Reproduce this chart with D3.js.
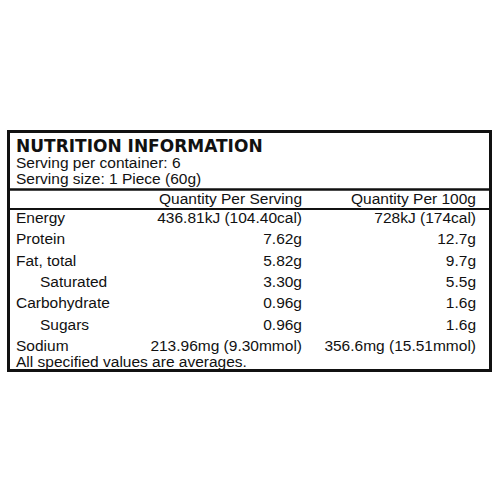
<!DOCTYPE html><html><head><script src="https://cdn.jsdelivr.net/npm/d3@7"></script>
<style>body{margin:0;background:#fff}</style></head><body><svg id="c" width="500" height="500"></svg>
<script>
const nutrients=["Energy","Protein","Fat, total","Saturated","Carbohydrate","Sugars","Sodium"];
const indent=[0,0,0,1,0,1,0];
const perServing=["436.81kJ (104.40cal)","7.62g","5.82g","3.30g","0.96g","0.96g","213.96mg (9.30mmol)"];
const per100g=["728kJ (174cal)","12.7g","9.7g","5.5g","1.6g","1.6g","356.6mg (15.51mmol)"];
const headers=["Quantity Per Serving","Quantity Per 100g"];
const svg=d3.select("#c");
const F="Liberation Sans, Arial, sans-serif";
svg.append("rect").attr("x",8.5).attr("y",131.5).attr("width",482).attr("height",239).attr("fill","#fff").attr("stroke","#111").attr("stroke-width",3);
const t=(x,y,s,o={})=>svg.append("text").attr("x",x).attr("y",y).text(s).attr("font-family",o.ff||F).attr("font-size",o.fs||15.5).attr("font-weight",o.fw||"normal").attr("text-anchor",o.a||"start").attr("fill","#111");
t(16,152,"NUTRITION INFORMATION",{fs:17,fw:"bold",ff:"DejaVu Sans, sans-serif"});
t(16,168,"Serving per container: 6");
t(16,184,"Serving size: 1 Piece (60g)");
svg.append("line").attr("x1",8).attr("x2",491).attr("y1",189.5).attr("y2",189.5).attr("stroke","#111").attr("stroke-width",2.5);
svg.append("line").attr("x1",8).attr("x2",491).attr("y1",209).attr("y2",209).attr("stroke","#111").attr("stroke-width",1.8);
const cols=d3.scaleOrdinal().domain([0,1]).range([302,476]);
headers.forEach((h,i)=>t(cols(i),204,h,{a:"end"}));
const y=d3.scalePoint().domain(nutrients).range([223,351]);
nutrients.forEach((n,i)=>{
  t(16+indent[i]*24,y(n),n);
  t(cols(0),y(n),perServing[i],{a:"end"});
  t(cols(1),y(n),per100g[i],{a:"end"});
});
t(16,367,"All specified values are averages.");
</script></body></html>
